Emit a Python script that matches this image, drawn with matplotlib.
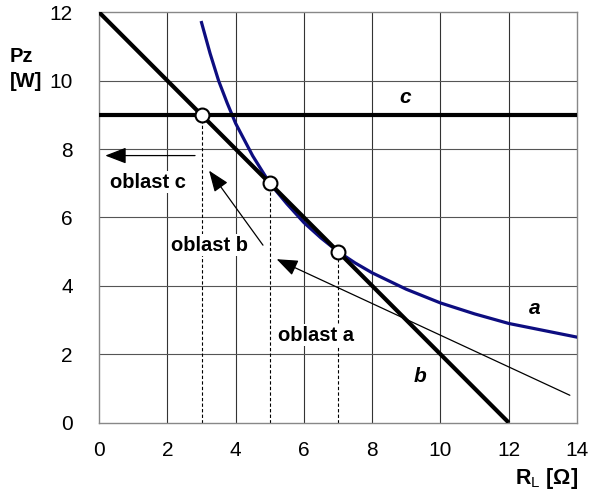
import matplotlib.pyplot as plt

plt.rcParams['font.family'] = ['Liberation Sans', 'DejaVu Sans']
plt.rcParams['mathtext.fontset'] = 'custom'
plt.rcParams['mathtext.bf'] = 'Liberation Sans:bold'
plt.rcParams['mathtext.rm'] = 'Liberation Sans'

# curve a
a_x = [3.0, 3.25, 3.5, 3.75, 4.0, 4.5, 5.0, 5.5, 6.0, 6.5, 7.0, 7.5, 8.0,
       9.0, 10.0, 11.0, 12.0, 13.0, 14.0]
a_y = [11.7, 10.8, 10.0, 9.35, 8.75, 7.8, 7.0, 6.4, 5.85, 5.4, 5.0, 4.67,
       4.38, 3.9, 3.5, 3.18, 2.9, 2.7, 2.5]

# line b
b_x = [0, 12]
b_y = [12, 0]

# line c
c_x = [0, 14]
c_y = [9, 9]

# operating points
pt_x = [3, 5, 7]
pt_y = [9, 7, 5]

# arrows (tail -> tip)
arrows = [((2.81, 7.81), (0.18, 7.81)),
          ((4.80, 5.19), (3.22, 7.37)),
          ((13.79, 0.80), (5.20, 4.78))]

# region labels
regions = ['oblast c', 'oblast b', 'oblast a']
region_pos = [(1.43, 7.03), (3.22, 5.19), (6.36, 2.56)]

curve_names = ['a', 'b', 'c']
curve_name_pos = [(12.75, 3.35), (9.39, 1.35), (8.98, 9.52)]

ticks_x = [0, 2, 4, 6, 8, 10, 12, 14]
ticks_y = [0, 2, 4, 6, 8, 10, 12]

fig = plt.figure(figsize=(5.9, 4.92), dpi=100)
ax = fig.add_axes([0.168, 0.141, 0.81, 0.834])

for x in ticks_x[1:-1]:
    ax.axvline(x, color='#333333', lw=0.8, zorder=1)
for y in ticks_y[1:-1]:
    ax.axhline(y, color='#555555', lw=0.8, zorder=1)

for px, py in zip(pt_x, pt_y):
    ax.plot([px, px], [0, py], color='black', lw=0.8, ls=(0, (3, 2)), zorder=2)

ax.plot(a_x, a_y, color='#0d0d80', lw=2.3, zorder=3)
ax.plot(b_x, b_y, color='black', lw=3, zorder=4, solid_capstyle='butt')
ax.plot(c_x, c_y, color='black', lw=3, zorder=4)
ax.plot(pt_x, pt_y, 'o', ms=10, mfc='white', mec='black', mew=1.5, zorder=6)

for (tail, tip) in arrows:
    ax.annotate('', xy=tip, xytext=tail,
                arrowprops=dict(arrowstyle='-|>,head_length=0.65,head_width=0.25',
                                mutation_scale=20, color='black', lw=0.9,
                                shrinkA=0, shrinkB=0), zorder=5)

for txt, (tx, ty) in zip(regions, region_pos):
    ax.text(tx, ty, txt, ha='center', va='center', fontsize=14.5, fontweight='bold',
            bbox=dict(facecolor='white', edgecolor='none', pad=1), zorder=5)

for txt, (tx, ty) in zip(curve_names, curve_name_pos):
    ax.text(tx, ty, txt, ha='center', va='center', fontsize=15, fontweight='bold',
            style='italic', zorder=5)

ax.set_xlim(0, 14)
ax.set_ylim(0, 12)
ax.set_xticks(ticks_x)
ax.set_yticks(ticks_y)
ax.tick_params(length=0, labelsize=15)
ax.tick_params(axis='x', pad=13)
ax.tick_params(axis='y', pad=19)
for sp in ax.spines.values():
    sp.set_color('#888888')
    sp.set_linewidth(1)

fig.text(0.017, 0.86, 'Pz\n[W]', fontsize=14.5, fontweight='bold', ha='left', va='center',
         linespacing=1.4)
fig.text(0.98, 0.027, r'$\mathbf{R}_\mathrm{L}$ [Ω]', fontsize=15.5, fontweight='bold',
         ha='right', va='center')

fig.savefig('out.png', dpi=100)
